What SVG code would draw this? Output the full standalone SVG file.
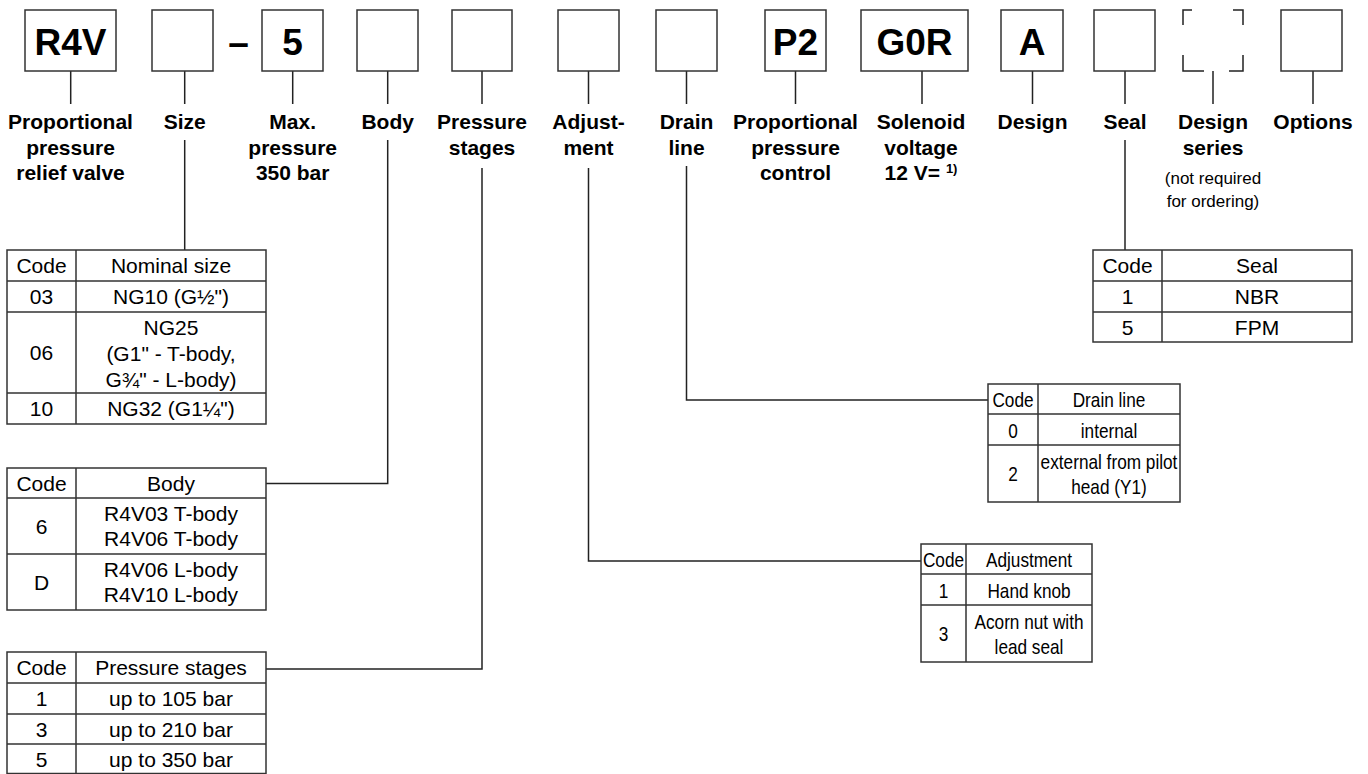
<svg xmlns="http://www.w3.org/2000/svg" width="1368" height="774" viewBox="0 0 1368 774">
<style>
.box{fill:#fff;stroke:#333;stroke-width:1.5}
.bx{font-family:"Liberation Sans",Arial,sans-serif;font-weight:bold;font-size:37px;text-anchor:middle;fill:#000}
.lbl{font-family:"Liberation Sans",Arial,sans-serif;font-weight:bold;font-size:21px;text-anchor:middle;fill:#000}
.sm{font-family:"Liberation Sans",Arial,sans-serif;font-size:17px;text-anchor:middle;fill:#000}
.tb{fill:#fff;stroke:#333;stroke-width:1.5}
.tl{stroke:#333;stroke-width:1.5;fill:none}
.t{font-family:"Liberation Sans",Arial,sans-serif;font-size:21px;text-anchor:middle;fill:#000}
.tn{font-family:"Liberation Sans",Arial,sans-serif;font-size:21px;text-anchor:middle;fill:#000}
.ln{stroke:#222;stroke-width:1.5;fill:none}
</style>

<g id="connectors">
<path class="ln" d="M70.7,71V104 M184.7,71V104 M292.7,71V104 M387.7,71V104 M482,71V104 M588.5,71V104 M686.5,71V104 M795.5,71V104 M922,71V104 M1032.5,71V104 M1125,71V104 M1213,71V104 M1313,71V104"/>
<path class="ln" d="M184.7,140V250"/>
<path class="ln" d="M387.7,140V483.5H266"/>
<path class="ln" d="M482,168V669H266"/>
<path class="ln" d="M588.5,168V561H921"/>
<path class="ln" d="M686.5,166V400H988"/>
<path class="ln" d="M1125,140V250"/>
</g>

<g id="n-r4v">
<rect class="box" x="25" y="10" width="91" height="61"/>
<text class="bx" x="70.5" y="55">R4V</text>
<text class="lbl" x="70.5" y="129">Proportional</text>
<text class="lbl" x="70.5" y="154.5">pressure</text>
<text class="lbl" x="70.5" y="180">relief valve</text>
</g>
<g id="n-size">
<rect class="box" x="152" y="10" width="61" height="61"/>
<text class="lbl" x="184.7" y="129">Size</text>
</g>
<g id="n-dash">
<text class="bx" x="238.5" y="55">–</text>
</g>
<g id="n-maxp">
<rect class="box" x="262" y="10" width="61" height="61"/>
<text class="bx" x="292.5" y="55">5</text>
<text class="lbl" x="292.7" y="129">Max.</text>
<text class="lbl" x="292.7" y="154.5">pressure</text>
<text class="lbl" x="292.7" y="180">350 bar</text>
</g>
<g id="n-body">
<rect class="box" x="357" y="10" width="61" height="61"/>
<text class="lbl" x="387.7" y="129">Body</text>
</g>
<g id="n-pstages">
<rect class="box" x="452" y="10" width="60" height="61"/>
<text class="lbl" x="482" y="129">Pressure</text>
<text class="lbl" x="482" y="154.5">stages</text>
</g>
<g id="n-adjust">
<rect class="box" x="558" y="10" width="61" height="61"/>
<text class="lbl" x="588.5" y="129">Adjust-</text>
<text class="lbl" x="588.5" y="154.5">ment</text>
</g>
<g id="n-drain">
<rect class="box" x="656" y="10" width="61" height="61"/>
<text class="lbl" x="686.5" y="129">Drain</text>
<text class="lbl" x="686.5" y="154.5">line</text>
</g>
<g id="n-p2">
<rect class="box" x="765" y="10" width="61" height="61"/>
<text class="bx" x="795.5" y="55">P2</text>
<text class="lbl" x="795.5" y="129">Proportional</text>
<text class="lbl" x="795.5" y="154.5">pressure</text>
<text class="lbl" x="795.5" y="180">control</text>
</g>
<g id="n-g0r">
<rect class="box" x="861" y="10" width="107" height="61"/>
<text class="bx" x="914.5" y="55">G0R</text>
<text class="lbl" x="921" y="129">Solenoid</text>
<text class="lbl" x="921" y="154.5">voltage</text>
<text class="lbl" x="921" y="180">12 V= <tspan font-size="13" dy="-7">1)</tspan></text>
</g>
<g id="n-design">
<rect class="box" x="1001" y="10" width="62" height="61"/>
<text class="bx" x="1032" y="55">A</text>
<text class="lbl" x="1032.5" y="129">Design</text>
</g>
<g id="n-seal">
<rect class="box" x="1094" y="10" width="61" height="61"/>
<text class="lbl" x="1125" y="129">Seal</text>
</g>
<g id="n-series">
<path class="ln" d="M1183,25V10H1192 M1233,10H1243V25 M1183,55V71H1204 M1229,71H1243V55"/>
<text class="lbl" x="1213" y="129">Design</text>
<text class="lbl" x="1213" y="154.5">series</text>
<text class="sm" x="1213" y="184">(not required</text>
<text class="sm" x="1213" y="207">for ordering)</text>
</g>
<g id="n-options">
<rect class="box" x="1281" y="10" width="61" height="61"/>
<text class="lbl" x="1313" y="129">Options</text>
</g>

<g id="t-size">
<rect class="tb" x="7" y="250" width="259" height="174"/>
<path class="tl" d="M76,250V424 M7,281H266 M7,312H266 M7,393H266"/>
<text class="t" x="41.5" y="273">Code</text>
<text class="t" x="171" y="273">Nominal size</text>
<text class="t" x="41.5" y="304">03</text>
<text class="t" x="171" y="304">NG10 (G½")</text>
<text class="t" x="41.5" y="360">06</text>
<text class="t" x="171" y="335">NG25</text>
<text class="t" x="171" y="361">(G1" - T-body,</text>
<text class="t" x="171" y="387">G¾" - L-body)</text>
<text class="t" x="41.5" y="416">10</text>
<text class="t" x="171" y="416">NG32 (G1¼")</text>
</g>

<g id="t-body">
<rect class="tb" x="7" y="468" width="259" height="142"/>
<path class="tl" d="M76,468V610 M7,498H266 M7,554H266"/>
<text class="t" x="41.5" y="490.5">Code</text>
<text class="t" x="171" y="490.5">Body</text>
<text class="t" x="41.5" y="533.5">6</text>
<text class="t" x="171" y="520.5">R4V03 T-body</text>
<text class="t" x="171" y="545.5">R4V06 T-body</text>
<text class="t" x="41.5" y="589.5">D</text>
<text class="t" x="171" y="576.5">R4V06 L-body</text>
<text class="t" x="171" y="601.5">R4V10 L-body</text>
</g>

<g id="t-pstages">
<rect class="tb" x="7" y="652" width="259" height="121.5"/>
<path class="tl" d="M76,652V774 M7,683H266 M7,714H266 M7,744H266"/>
<text class="t" x="41.5" y="675">Code</text>
<text class="t" x="171" y="675">Pressure stages</text>
<text class="t" x="41.5" y="706">1</text>
<text class="t" x="171" y="706">up to 105 bar</text>
<text class="t" x="41.5" y="736.5">3</text>
<text class="t" x="171" y="736.5">up to 210 bar</text>
<text class="t" x="41.5" y="766.5">5</text>
<text class="t" x="171" y="766.5">up to 350 bar</text>
</g>

<g id="t-seal">
<rect class="tb" x="1093" y="250" width="259" height="92"/>
<path class="tl" d="M1162,250V342 M1093,281H1352 M1093,312H1352"/>
<text class="t" x="1127.5" y="273">Code</text>
<text class="t" x="1257" y="273">Seal</text>
<text class="t" x="1127.5" y="304">1</text>
<text class="t" x="1257" y="304">NBR</text>
<text class="t" x="1127.5" y="334.5">5</text>
<text class="t" x="1257" y="334.5">FPM</text>
</g>

<g id="t-drain">
<rect class="tb" x="988" y="384" width="192" height="118"/>
<path class="tl" d="M1038,384V502 M988,414H1180 M988,445H1180"/>
<text class="tn" transform="translate(1013,406.5) scale(0.82,1)">Code</text>
<text class="tn" transform="translate(1109,406.5) scale(0.82,1)">Drain line</text>
<text class="tn" transform="translate(1013,437.5) scale(0.82,1)">0</text>
<text class="tn" transform="translate(1109,437.5) scale(0.82,1)">internal</text>
<text class="tn" transform="translate(1013,481) scale(0.82,1)">2</text>
<text class="tn" transform="translate(1109,468.5) scale(0.82,1)">external from pilot</text>
<text class="tn" transform="translate(1109,493.5) scale(0.82,1)">head (Y1)</text>
</g>

<g id="t-adjust">
<rect class="tb" x="921" y="544" width="171" height="118"/>
<path class="tl" d="M966,544V662 M921,574H1092 M921,605H1092"/>
<text class="tn" transform="translate(943.5,566.5) scale(0.82,1)">Code</text>
<text class="tn" transform="translate(1029,566.5) scale(0.82,1)">Adjustment</text>
<text class="tn" transform="translate(943.5,597.5) scale(0.82,1)">1</text>
<text class="tn" transform="translate(1029,597.5) scale(0.82,1)">Hand knob</text>
<text class="tn" transform="translate(943.5,641) scale(0.82,1)">3</text>
<text class="tn" transform="translate(1029,628.5) scale(0.82,1)">Acorn nut with</text>
<text class="tn" transform="translate(1029,653.5) scale(0.82,1)">lead seal</text>
</g>
</svg>
